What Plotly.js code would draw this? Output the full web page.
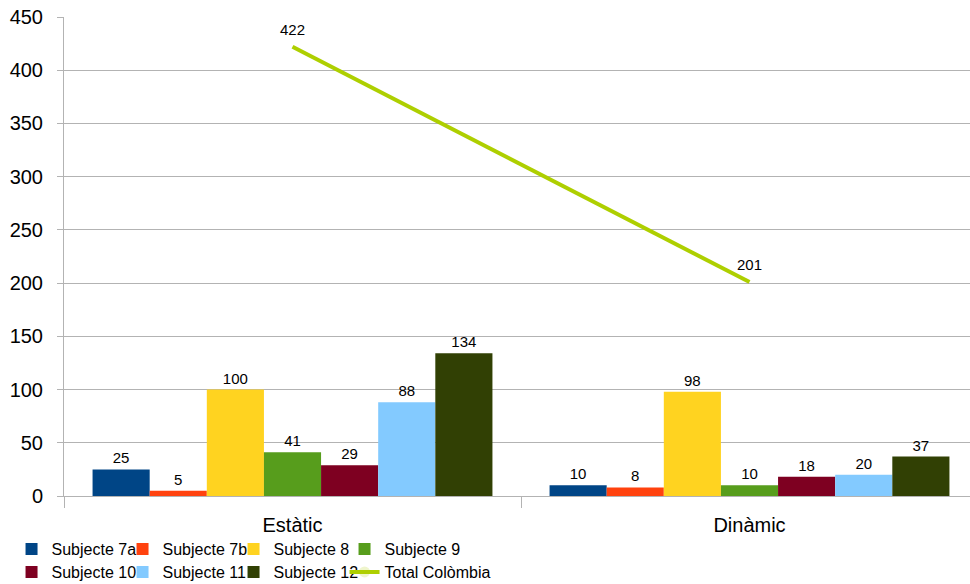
<!DOCTYPE html>
<html>
<head>
<meta charset="utf-8">
<script src="https://cdn.plot.ly/plotly-3.0.1.min.js"></script>
<style>html,body{margin:0;padding:0;background:#fff;overflow:hidden;}#chart{width:978px;height:584px;}</style>
</head>
<body>
<div id="chart"></div>
<script>
const categories = ["Estàtic", "Dinàmic"];
const seriesNames = ["Subjecte 7a", "Subjecte 7b", "Subjecte 8", "Subjecte 9", "Subjecte 10", "Subjecte 11", "Subjecte 12"];
const subjecte7a = [25, 10];
const subjecte7b = [5, 8];
const subjecte8 = [100, 98];
const subjecte9 = [41, 10];
const subjecte10 = [29, 18];
const subjecte11 = [88, 20];
const subjecte12 = [134, 37];
const totalColombia = [422, 201];
const lineName = "Total Colòmbia";
const barColors = ["#004586", "#ff420e", "#ffd320", "#579d1c", "#7e0021", "#83caff", "#314004"];
const lineColor = "#aecf00";
const yTicks = [0, 50, 100, 150, 200, 250, 300, 350, 400, 450];

const barValues = [subjecte7a, subjecte7b, subjecte8, subjecte9, subjecte10, subjecte11, subjecte12];
const font = "Liberation Sans, Arial, sans-serif";

const traces = barValues.map((vals, i) => ({
  type: "bar",
  name: seriesNames[i],
  x: categories,
  y: vals,
  marker: {color: barColors[i], line: {width: 0}},
  text: vals.map(String),
  textposition: "outside",
  textfont: {family: font, size: 15, color: "#000"},
  cliponaxis: false,
  legend: i < 4 ? "legend" : "legend2",
  legendwidth: i === 3 ? 120 : 66,
  hoverinfo: "none"
}));
traces.push({
  type: "scatter",
  mode: "lines+markers+text",
  name: lineName,
  x: categories,
  y: totalColombia,
  line: {color: lineColor, width: 4},
  marker: {size: 11, opacity: 0, color: lineColor},
  text: totalColombia.map(String),
  textposition: "top center",
  textfont: {family: font, size: 15, color: "#000"},
  cliponaxis: false,
  legend: "legend2",
  legendwidth: 120,
  hoverinfo: "none"
});

const legendCommon = {
  orientation: "h",
  xref: "paper", yref: "paper",
  xanchor: "left", yanchor: "middle",
  x: -0.0574,
  font: {family: font, size: 16, color: "#000"},
  entrywidth: 66, entrywidthmode: "pixels",
  bgcolor: "rgba(0,0,0,0)",
  borderwidth: 0,
  tracegroupgap: 0,
  itemclick: false
};

const layout = {
  width: 978, height: 584,
  margin: {l: 64, r: 0, t: 17, b: 88, autoexpand: false},
  paper_bgcolor: "#fff", plot_bgcolor: "#fff",
  barmode: "group",
  bargap: 0.125,
  bargroupgap: 0,
  font: {family: font, color: "#000"},
  showlegend: true,
  legend: Object.assign({}, legendCommon, {y: -0.1106}),
  legend2: Object.assign({}, legendCommon, {y: -0.1587}),
  xaxis: {
    type: "category",
    showgrid: false,
    showline: true, linecolor: "#b3b3b3", linewidth: 1,
    ticks: "outside", tickson: "boundaries", ticklen: 11, tickcolor: "#b3b3b3",
    tickfont: {family: font, size: 20, color: "#000"},
    ticklabelstandoff: 11,
    zeroline: false,
    fixedrange: true
  },
  yaxis: {
    range: [0, 450],
    tickvals: yTicks,
    ticktext: yTicks.map(String),
    showgrid: true, gridcolor: "#b3b3b3", gridwidth: 1,
    showline: true, linecolor: "#b3b3b3", linewidth: 1,
    ticks: "outside", ticklen: 6, tickcolor: "#b3b3b3",
    tickfont: {family: font, size: 20, color: "#000"},
    ticklabelstandoff: 10,
    zeroline: false,
    fixedrange: true
  }
};

Plotly.newPlot("chart", traces, layout, {displayModeBar: false, staticPlot: true});
</script>
</body>
</html>
